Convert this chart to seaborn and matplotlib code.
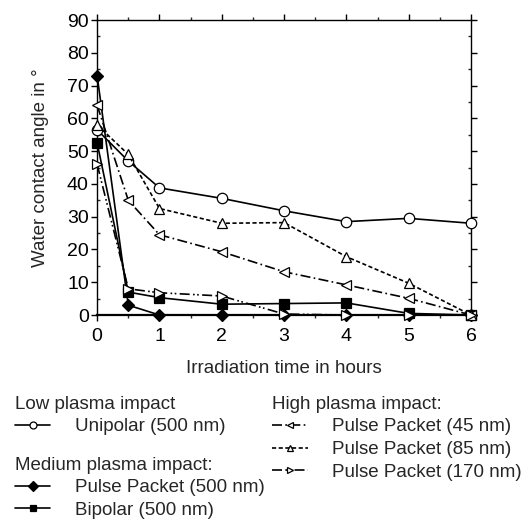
import matplotlib
matplotlib.use("Agg")
import matplotlib.pyplot as plt
import seaborn as sns
import pandas as pd
from matplotlib.ticker import MultipleLocator

sns.set_style("ticks")
plt.rcParams['font.family'] = ['Liberation Sans', 'DejaVu Sans']

time = [0, 0.5, 1, 2, 3, 4, 5, 6]
unipolar = [56.5, 47, 38.8, 35.6, 31.8, 28.5, 29.5, 28.0]
pp500 = [73, 3, 0, 0, 0, 0, 0, 0]
bipolar = [52.5, 7, 5.3, 3.3, 3.5, 3.7, 0.5, 0]
pp45 = [64, 35, 24.5, 19.3, 13.2, 9.2, 5.1, 0]
pp85 = [58, 49, 32.5, 28, 28.2, 17.8, 9.7, 0]
pp170 = [46, 8, 6.8, 5.8, 0.3, 0, 0, 0]

series = [
    ("Unipolar (500 nm)", unipolar, "o", "white", "-"),
    ("Pulse Packet (500 nm)", pp500, "D", "black", "-"),
    ("Bipolar (500 nm)", bipolar, "s", "black", "-"),
    ("Pulse Packet (45 nm)", pp45, "<", "white", (0, (6, 2, 1, 2))),
    ("Pulse Packet (85 nm)", pp85, "^", "white", (0, (2.5, 1.5))),
    ("Pulse Packet (170 nm)", pp170, ">", "white", (0, (6, 2, 1, 1.5, 1, 2))),
]

fig = plt.figure(figsize=(5.28, 5.29), dpi=100)
ax = fig.add_axes([0.184, 0.4045, 0.708, 0.5575])

handles = {}
for name, vals, mk, fc, ls in series:
    df = pd.DataFrame({"t": time, "v": vals})
    ms = 6 if mk == "D" else 7.5
    sns.lineplot(data=df, x="t", y="v", ax=ax, color="black", linewidth=1.2,
                 linestyle=ls, marker=mk, markersize=ms, markerfacecolor=fc,
                 markeredgecolor="black", markeredgewidth=0.9, clip_on=False,
                 zorder=3, legend=False)
    handles[name] = ax.lines[-1]

ax.set_xlim(0, 6)
ax.set_ylim(0, 90)
ax.xaxis.set_major_locator(MultipleLocator(1))
ax.xaxis.set_minor_locator(MultipleLocator(0.5))
ax.yaxis.set_major_locator(MultipleLocator(10))
ax.yaxis.set_minor_locator(MultipleLocator(5))
for s in ax.spines.values():
    s.set_linewidth(1.0)
    s.set_color("black")
ax.spines['bottom'].set_linewidth(1.6)
ax.tick_params(axis='both', which='major', direction='out', length=4, width=1,
               labelsize=14, colors='black', pad=2)
ax.tick_params(axis='x', which='major', pad=5)
ax.tick_params(axis='both', which='minor', direction='in', length=2.5, width=1)
ax.tick_params(top=True, right=True, which='both')
ax.tick_params(axis='x', which='both', top=True, direction='out')
ax.set_xlabel("Irradiation time in hours", fontsize=13.5, labelpad=11)
ax.set_ylabel("Water contact angle in °", fontsize=13.5, labelpad=13)

common = dict(frameon=False, loc='upper left', fontsize=13.5, title_fontsize=13.5,
              alignment='left', borderpad=0, borderaxespad=0, handlelength=1.9,
              handletextpad=1.3, labelspacing=0.3)
leg1 = fig.legend([handles["Unipolar (500 nm)"]], ["Unipolar (500 nm)"],
                  title="Low plasma impact", bbox_to_anchor=(0.028, 0.252), **common)
leg2 = fig.legend([handles["Pulse Packet (500 nm)"], handles["Bipolar (500 nm)"]],
                  ["Pulse Packet (500 nm)", "Bipolar (500 nm)"],
                  title="Medium plasma impact:", bbox_to_anchor=(0.028, 0.137), **common)
names3 = ["Pulse Packet (45 nm)", "Pulse Packet (85 nm)", "Pulse Packet (170 nm)"]
leg3 = fig.legend([handles[n] for n in names3], names3,
                  title="High plasma impact:", bbox_to_anchor=(0.515, 0.252), **common)
for lg in (leg1, leg2, leg3):
    for h in lg.legend_handles:
        h.set_markersize(5)

fig.savefig("out.png", dpi=100)
